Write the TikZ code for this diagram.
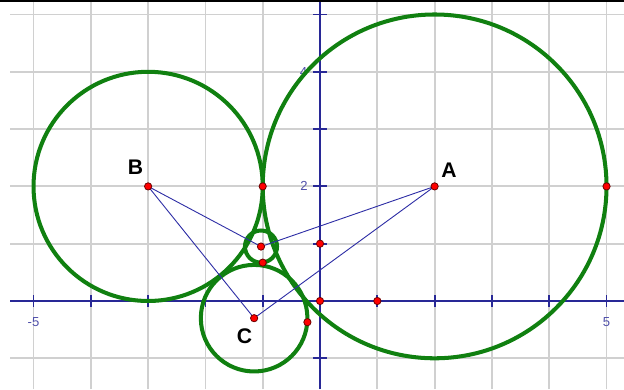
\documentclass[tikz,border=0pt]{standalone}
\usepackage{fontspec}
\setmainfont{Liberation Sans}
\definecolor{gridgray}{RGB}{208,208,208}
\definecolor{axisblue}{RGB}{40,40,150}
\definecolor{segblue}{RGB}{45,45,165}
\definecolor{circgreen}{RGB}{16,128,16}
\definecolor{numblue}{RGB}{80,80,170}
\definecolor{ptedge}{RGB}{110,0,0}
\begin{document}
\begin{tikzpicture}[x=1cm,y=1cm,
  gridline/.style={draw=gridgray,line width=0.9pt},
  axisline/.style={draw=axisblue,line width=0.9pt},
  circ/.style={draw=circgreen,line width=2pt},
  seg/.style={draw=segblue,line width=0.45pt},
  pt/.style={circle,fill=red,draw=ptedge,line width=0.4pt,inner sep=0pt,minimum size=3.6pt},
  lab/.style={font=\fontsize{10.5}{12}\selectfont\bfseries,inner sep=0pt},
  num/.style={font=\fontsize{6.5}{7}\selectfont,text=numblue,inner sep=0pt}]
\useasboundingbox (-5.585,-1.536) rectangle (5.305,5.253);
% grid
\foreach \x in {-5,...,5} \draw[gridline] (\x,-1.536) -- (\x,5.253);
\foreach \y in {-1,...,5} \draw[gridline] (-5.41,\y) -- (5.305,\y);
% axes
\draw[axisline] (-5.41,0) -- (5.305,0);
\draw[axisline] (0,-1.536) -- (0,5.253);
\foreach \x in {-5,...,5} \draw[axisline] (\x,-0.1) -- (\x,0.1);
\foreach \y in {-1,...,5} \draw[axisline] (-0.12,\y) -- (0.12,\y);
% axis numbers
\node[num] (nm5) at (-5,-0.37) {-5};
\node[num] (n5) at (5,-0.37) {5};
\node[num] (n2) at (-0.28,2) {2};
\node[num] (n4) at (-0.29,4) {4};
% top border
\draw[black,line width=2pt] (-5.585,5.253) -- (5.305,5.253);
% centres and special points
\coordinate (A) at (2,2);
\coordinate (B) at (-3,2);
\coordinate (C) at (-1.15,-0.30);
\coordinate (S) at (-1.03,0.95);
\coordinate (T) at (-1.0,0.67);
\coordinate (K) at (-1,2);
\coordinate (E) at (5,2);
\coordinate (P) at (-0.22,-0.37);
\coordinate (Y1) at (0,1);
\coordinate (O) at (0,0);
\coordinate (X1) at (1,0);
% circles
\draw[circ] (A) circle (3);
\draw[circ] (B) circle (2);
\draw[circ] (C) circle (0.93);
\draw[circ] (S) circle (0.28);
% segments
\draw[seg] (B) -- (S) -- (A) -- (C) -- (B);
% points
\foreach \p in {A,B,C,S,T,K,E,P,Y1,O,X1} \node[pt] (p\p) at (\p) {};
% letter labels
\node[lab] (lA) at (2.25,2.29) {A};
\node[lab] (lB) at (-3.22,2.34) {B};
\node[lab] (lC) at (-1.32,-0.62) {C};
\end{tikzpicture}
\end{document}
